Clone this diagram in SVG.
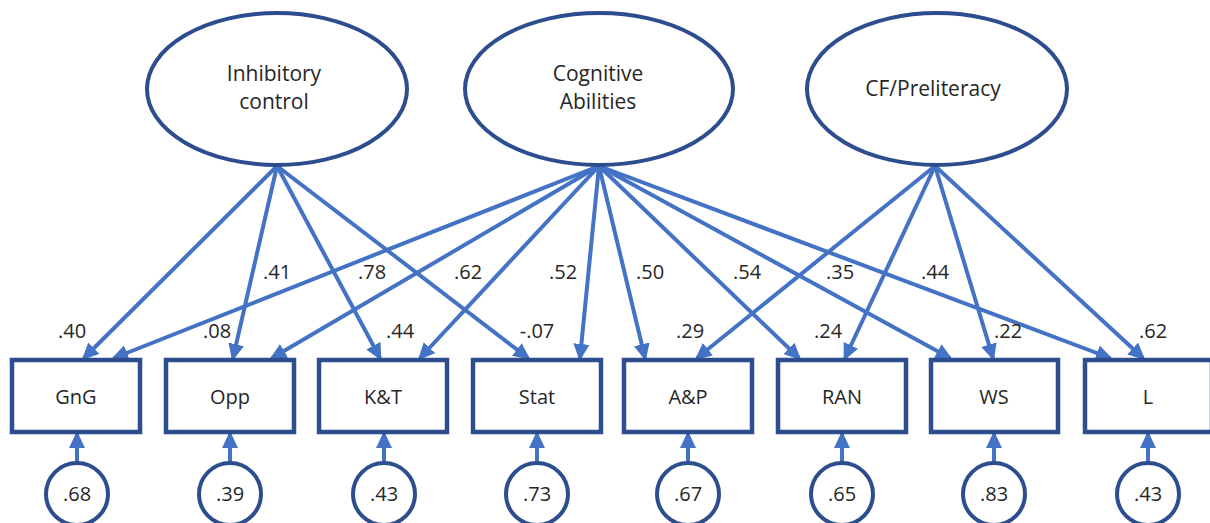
<svg xmlns="http://www.w3.org/2000/svg" width="1210" height="523" viewBox="0 0 1210 523">
<defs>
<marker id="ah" markerUnits="userSpaceOnUse" markerWidth="18" markerHeight="16" refX="14" refY="8" orient="auto" viewBox="0 0 18 16">
<path d="M0,0 L17,8 L0,16 z" fill="#4472C4"/>
</marker>
</defs>
<style>
.lat{fill:#fff;stroke:#2C4D8E;stroke-width:4}
.obs{fill:#fff;stroke:#2C4D8E;stroke-width:4.5}
.err{fill:#fff;stroke:#2C4D8E;stroke-width:4}
.c{fill:none;stroke:#4472C4;stroke-width:4;marker-end:url(#ah)}
text{font-family:"Open Sans","Liberation Sans",sans-serif;fill:#262626;text-anchor:middle}
.t1{font-size:21px}
.t2{font-size:20px}
.t3{font-size:20px}
</style>
<rect width="1210" height="523" fill="#fff"/>
<g id="connectors">
<path class="c" d="M277,166 L84,358"/>
<path class="c" d="M277,166 L233,358"/>
<path class="c" d="M277,166 L380,358"/>
<path class="c" d="M277,166 L528,358"/>
<path class="c" d="M599,166 L114,358"/>
<path class="c" d="M599,166 L272,358"/>
<path class="c" d="M599,166 L420,358"/>
<path class="c" d="M599,166 L580,358"/>
<path class="c" d="M599,166 L645,358"/>
<path class="c" d="M599,166 L799,358"/>
<path class="c" d="M599,166 L950,358"/>
<path class="c" d="M599,166 L1110,358"/>
<path class="c" d="M935,166 L697,358"/>
<path class="c" d="M935,166 L845,358"/>
<path class="c" d="M935,166 L993,358"/>
<path class="c" d="M935,166 L1143,358"/>
<path class="c" d="M77,463 L77,434"/>
<path class="c" d="M230,463 L230,434"/>
<path class="c" d="M384,463 L384,434"/>
<path class="c" d="M537,463 L537,434"/>
<path class="c" d="M688,463 L688,434"/>
<path class="c" d="M842,463 L842,434"/>
<path class="c" d="M994,463 L994,434"/>
<path class="c" d="M1148,463 L1148,434"/>
</g>
<g id="labels" class="t3">
<text x="277" y="279">.41</text>
<text x="372" y="279">.78</text>
<text x="468" y="279">.62</text>
<text x="563" y="279">.52</text>
<text x="650" y="279">.50</text>
<text x="747" y="279">.54</text>
<text x="840" y="279">.35</text>
<text x="935" y="279">.44</text>
<text x="72" y="338">.40</text>
<text x="217" y="338">.08</text>
<text x="400" y="338">.44</text>
<text x="537" y="338">-.07</text>
<text x="690" y="338">.29</text>
<text x="828" y="338">.24</text>
<text x="1008" y="338">.22</text>
<text x="1153" y="338">.62</text>
</g>
<g id="inhibitory">
<ellipse class="lat" cx="277" cy="89" rx="130" ry="76"/>
<text class="t1" x="274" y="81">Inhibitory</text>
<text class="t1" x="274" y="109">control</text>
</g>
<g id="cognitive">
<ellipse class="lat" cx="599" cy="89" rx="134" ry="76"/>
<text class="t1" x="598" y="81">Cognitive</text>
<text class="t1" x="598" y="109">Abilities</text>
</g>
<g id="cfpreliteracy">
<ellipse class="lat" cx="937" cy="89" rx="130" ry="76"/>
<text class="t1" x="933" y="96">CF/Preliteracy</text>
</g>
<g id="gng"><rect class="obs" x="12" y="360" width="128" height="72"/><text class="t2" x="76" y="404">GnG</text></g>
<g id="opp"><rect class="obs" x="166" y="360" width="128" height="72"/><text class="t2" x="230" y="404">Opp</text></g>
<g id="kt"><rect class="obs" x="319" y="360" width="128" height="72"/><text class="t2" x="383" y="404">K&amp;T</text></g>
<g id="stat"><rect class="obs" x="473" y="360" width="128" height="72"/><text class="t2" x="537" y="404">Stat</text></g>
<g id="ap"><rect class="obs" x="624" y="360" width="128" height="72"/><text class="t2" x="688" y="404">A&amp;P</text></g>
<g id="ran"><rect class="obs" x="778" y="360" width="128" height="72"/><text class="t2" x="842" y="404">RAN</text></g>
<g id="ws"><rect class="obs" x="931" y="360" width="127" height="72"/><text class="t2" x="994" y="404">WS</text></g>
<g id="l"><rect class="obs" x="1085" y="360" width="127" height="72"/><text class="t2" x="1148" y="404">L</text></g>
<g id="e1"><circle class="err" cx="77" cy="494" r="31"/><text class="t2" x="77" y="501">.68</text></g>
<g id="e2"><circle class="err" cx="230" cy="494" r="31"/><text class="t2" x="230" y="501">.39</text></g>
<g id="e3"><circle class="err" cx="384" cy="494" r="31"/><text class="t2" x="384" y="501">.43</text></g>
<g id="e4"><circle class="err" cx="537" cy="494" r="31"/><text class="t2" x="537" y="501">.73</text></g>
<g id="e5"><circle class="err" cx="688" cy="494" r="31"/><text class="t2" x="688" y="501">.67</text></g>
<g id="e6"><circle class="err" cx="842" cy="494" r="31"/><text class="t2" x="842" y="501">.65</text></g>
<g id="e7"><circle class="err" cx="994" cy="494" r="31"/><text class="t2" x="994" y="501">.83</text></g>
<g id="e8"><circle class="err" cx="1148" cy="494" r="31"/><text class="t2" x="1148" y="501">.43</text></g>
</svg>
